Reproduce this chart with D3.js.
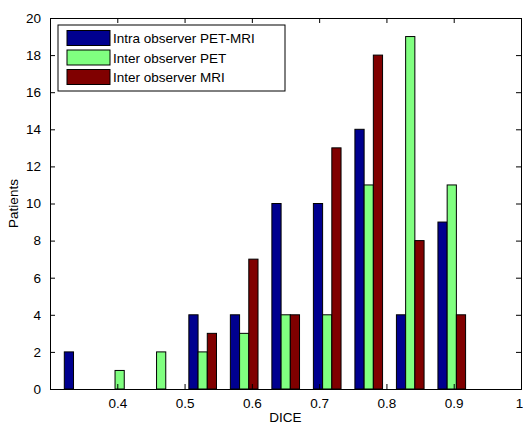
<!DOCTYPE html>
<html lang="en">
<head>
<meta charset="UTF-8">
<title>DICE histogram</title>
<script src="https://d3js.org/d3.v7.min.js"></script>
<style>
    body { margin: 0; background: #fff; }
    svg { display: block; font-family: 'Liberation Sans', Arial, sans-serif; }
    text { fill: #000; }
</style>
</head>
<body>
<svg width="523" height="425"></svg>
<script>
// bin centres (DICE) and patient counts per series
const binCenters = [0.3418, 0.4035, 0.4652, 0.5269, 0.5886, 0.6503, 0.7120, 0.7737, 0.8354, 0.8971];
const intraPetMri = [2, 0, 0, 4, 4, 10, 10, 14, 4, 9];
const interPet    = [0, 1, 2, 2, 3, 4, 4, 11, 19, 11];
const interMri    = [0, 0, 0, 3, 7, 4, 13, 18, 8, 4];
const seriesNames = ['Intra observer PET-MRI', 'Inter observer PET', 'Inter observer MRI'];
const seriesColors = ['#00008f', '#80ff80', '#800000'];
const xTicks = [0.4, 0.5, 0.6, 0.7, 0.8, 0.9, 1];
const yTicks = d3.range(0, 21, 2);

const series = [intraPetMri, interPet, interMri];

const margin = {left: 50, top: 18, right: 2, bottom: 36};
const width = 523, height = 425;

const svg = d3.select('svg');

const x = d3.scaleLinear().domain([0.3, 1]).range([margin.left, width - margin.right]);
const y = d3.scaleLinear().domain([0, 20]).range([height - margin.bottom, margin.top]);

// each bar is about 22% of a bin wide, three side by side
const barW = (binCenters[1] - binCenters[0]) * 0.222;

const bars = svg.append('g');
series.forEach((vals, si) => {
    bars.selectAll('.bar' + si)
        .data(vals.map((v, i) => ({v, c: binCenters[i]})).filter(d => d.v > 0))
        .join('rect')
        .attr('class', 'bar' + si)
        .attr('x', d => x(d.c + (si - 1.5) * barW))
        .attr('y', d => y(d.v))
        .attr('width', d => x(d.c + (si - 0.5) * barW) - x(d.c + (si - 1.5) * barW))
        .attr('height', d => y(0) - y(d.v))
        .attr('fill', seriesColors[si])
        .attr('stroke', '#000')
        .attr('stroke-width', 1);
});

// axes (MATLAB style: ticks inside, box all round)
const fs = 13.5;
const axBottom = svg.append('g').attr('transform', `translate(0,${y(0)})`)
    .call(d3.axisBottom(x).tickValues(xTicks).tickSize(-5).tickPadding(9).tickFormat(d3.format('')));
const axTop = svg.append('g').attr('transform', `translate(0,${y(20)})`)
    .call(d3.axisTop(x).tickValues(xTicks).tickSize(-5).tickFormat(''));
const axLeft = svg.append('g').attr('transform', `translate(${x(0.3)},0)`)
    .call(d3.axisLeft(y).tickValues(yTicks).tickSize(-5).tickPadding(9));
const axRight = svg.append('g').attr('transform', `translate(${x(1)},0)`)
    .call(d3.axisRight(y).tickValues(yTicks).tickSize(-5).tickFormat(''));

[axBottom, axTop, axLeft, axRight].forEach(a => {
    a.select('.domain').attr('stroke', '#000').attr('stroke-width', 1);
    a.selectAll('.tick line').attr('stroke', '#000');
    a.selectAll('text').attr('font-size', fs).attr('font-family', "'Liberation Sans', Arial, sans-serif").attr('fill', '#000');
});
axBottom.selectAll('.tick').filter(d => d === 1).select('text').attr('dx', -2);

// axis labels
svg.append('text')
    .attr('x', (x(0.3) + x(1)) / 2)
    .attr('y', 422)
    .attr('text-anchor', 'middle')
    .attr('font-size', fs)
    .text('DICE');
svg.append('text')
    .attr('transform', `translate(18,${(y(0) + y(20)) / 2}) rotate(-90)`)
    .attr('text-anchor', 'middle')
    .attr('font-size', fs)
    .text('Patients');

// legend
const lg = svg.append('g').attr('transform', 'translate(58,25)');
lg.append('rect')
    .attr('width', 227).attr('height', 66)
    .attr('fill', '#fff').attr('stroke', '#000');
seriesNames.forEach((name, i) => {
    const row = lg.append('g').attr('transform', `translate(0,${5 + i * 19.5})`);
    row.append('rect')
        .attr('x', 9).attr('y', 0.5)
        .attr('width', 43).attr('height', 15)
        .attr('fill', seriesColors[i])
        .attr('stroke', '#000');
    row.append('text')
        .attr('x', 55).attr('y', 13)
        .attr('font-size', fs)
        .text(name);
});
</script>
</body>
</html>
